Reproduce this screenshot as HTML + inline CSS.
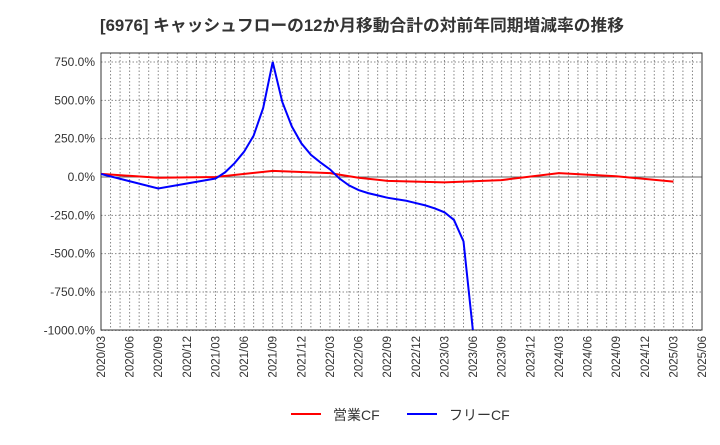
<!DOCTYPE html>
<html><head><meta charset="utf-8"><style>
body{margin:0;background:#fff;font-family:"Liberation Sans","Noto Sans CJK JP",sans-serif}
</style></head><body>
<svg id="chart" width="720" height="440" xmlns="http://www.w3.org/2000/svg" font-family="Liberation Sans, Noto Sans CJK JP, sans-serif">
<text x="100" y="31" font-size="16.5" font-weight="bold" fill="#333" textLength="524" lengthAdjust="spacingAndGlyphs">[6976]  キャッシュフローの12か月移動合計の対前年同期増減率の推移</text>
<g id="grid"></g><g id="axes"></g><g id="series"></g>
<g>
<line x1="291" y1="414" x2="321" y2="414" stroke="#f00" stroke-width="2"/>
<text x="333" y="420" font-size="14" fill="#333">営業CF</text>
<line x1="407" y1="414" x2="437" y2="414" stroke="#00f" stroke-width="2"/>
<text x="449" y="420" font-size="14" fill="#333">フリーCF</text>
</g>
</svg>
<script>
const yTicks=[750,500,250,0,-250,-500,-750,-1000];
const xLabels=["2020/03","2020/06","2020/09","2020/12","2021/03","2021/06","2021/09","2021/12","2022/03","2022/06","2022/09","2022/12","2023/03","2023/06","2023/09","2023/12","2024/03","2024/06","2024/09","2024/12","2025/03","2025/06"];
// monthly index from 2020/03
const redMonths=[0,6,12,18,24,27,30,36,42,48,54,60];
const redValues=[20,-5,0,40,25,-5,-25,-35,-20,25,5,-30];
const blueMonths=[0,6,12,13,14,15,16,17,18,19,20,21,22,23,24,25,26,27,28,29,30,31,32,33,34,35,36,37,38,39];
const blueValues=[20,-75,-10,30,90,165,270,450,750,490,330,220,145,95,50,-10,-55,-85,-105,-120,-135,-145,-155,-170,-185,-205,-230,-280,-420,-1010];
const L=101,R=702,T=53,B=330;
const x=m=>L+m*(R-L)/63;
const y=v=>177-v*(177-62)/750;
const NS="http://www.w3.org/2000/svg";
const svg=document.getElementById('chart');
function mk(tag,attrs,parent){const e=document.createElementNS(NS,tag);for(const k in attrs)e.setAttribute(k,attrs[k]);parent.appendChild(e);return e;}
const grid=document.getElementById('grid'),axes=document.getElementById('axes'),ser=document.getElementById('series');
for(let m=1;m<63;m++){const g=mk('line',{x1:x(m),x2:x(m),y1:T,y2:B,stroke:'#888','stroke-dasharray':'1.5,2','stroke-width':1},grid);

}
yTicks.forEach(v=>{const g=mk('line',{x1:L,x2:R,y1:y(v),y2:y(v),stroke:v===0?'#666':'#888','stroke-dasharray':v===0?'':'1.5,2','stroke-width':1},grid);


const t=mk('text',{x:L-6,y:y(v)+4,'text-anchor':'end','font-size':12,fill:'#333'},axes);t.textContent=v.toFixed(1)+'%';

});
xLabels.forEach((s,i)=>{const xx=x(i*3);const t=mk('text',{x:0,y:0,transform:`translate(${xx+4},${B+6}) rotate(-90)`,'text-anchor':'end','font-size':11.5,fill:'#333'},axes);t.textContent=s;

});
const frame=mk('rect',{x:L,y:T,width:R-L,height:B-T,fill:'none',stroke:'#333','stroke-width':1},axes);


const cp=mk('clipPath',{id:'clip'},svg);mk('rect',{x:L,y:T,width:R-L,height:B-T},cp);
const red=mk('polyline',{points:redMonths.map((m,i)=>x(m)+','+y(redValues[i])).join(' '),fill:'none',stroke:'#f00','stroke-width':2,'clip-path':'url(#clip)'},ser);


const blue=mk('polyline',{points:blueMonths.map((m,i)=>x(m)+','+y(blueValues[i])).join(' '),fill:'none',stroke:'#00f','stroke-width':2,'clip-path':'url(#clip)'},ser);


</script>
</body></html>
